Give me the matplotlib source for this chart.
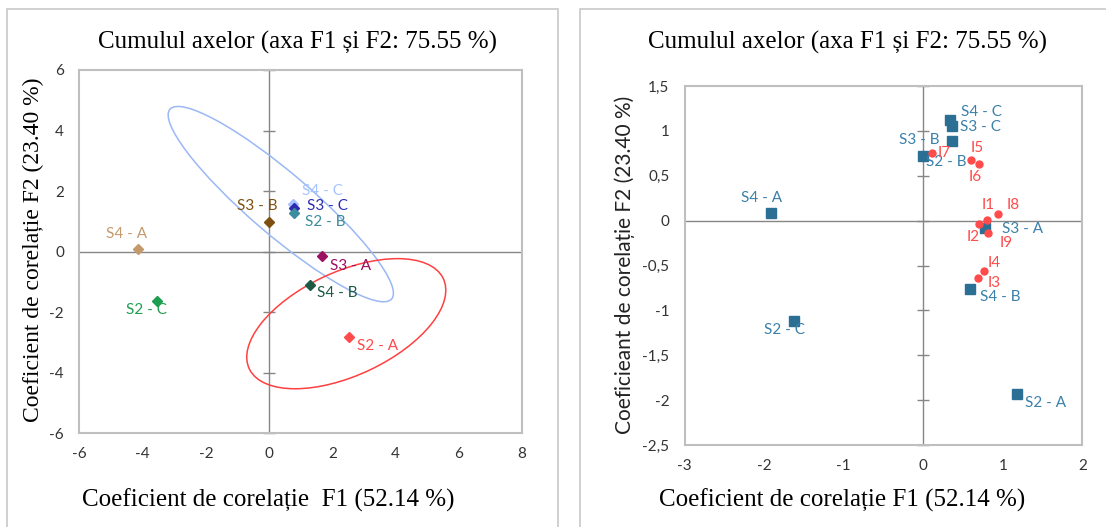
import matplotlib
matplotlib.use('Agg')
import matplotlib.pyplot as plt
from matplotlib.patches import Ellipse, Rectangle
import numpy as np

plt.rcParams['axes.unicode_minus'] = False

# left panel: observations (scores)
names_l = ['S4 - A', 'S2 - C', 'S3 - B', 'S4 - C', 'S3 - C', 'S2 - B', 'S3 - A', 'S4 - B', 'S2 - A']
x_l = [-4.16, -3.53, -0.01, 0.76, 0.78, 0.78, 1.68, 1.29, 2.54]
y_l = [0.09, -1.62, 0.99, 1.57, 1.44, 1.27, -0.14, -1.09, -2.81]
colors_l = ['#c49a6c', '#1e9e50', '#7f4f10', '#a6c3ff', '#2c2cb0', '#3a8c9e', '#9b1060', '#1d5a45', '#ff4b4b']
offs_l = [(-8, 11), (-8, -7), (-8, 11.5), (21, 9.6), (24, 1.7), (23, -6), (20.6, -7), (20, -6.2), (20.3, -7)]

# confidence ellipses: center x, center y, semi-major, semi-minor, angle
ell_blue = [0.37, 1.57, 4.7, 1.0, -41.9]
ell_red = [2.44, -2.38, 3.41, 1.70, 26.4]

# right panel: biplot
names_s = ['S4 - A', 'S2 - C', 'S4 - C', 'S3 - C', 'S3 - B', 'S2 - B', 'S3 - A', 'S4 - B', 'S2 - A']
x_s = [-1.91, -1.63, 0.34, 0.36, 0.36, 0.0, 0.77, 0.59, 1.18]
y_s = [0.09, -1.12, 1.12, 1.05, 0.89, 0.72, -0.08, -0.76, -1.93]
offs_s = [(-7.3, 10.4), (-6.8, -6.7), (22.8, 6), (20.4, -0.7), (-23.3, 0.7), (16.8, -4.1), (27.6, -0.7), (21.6, -6), (20.8, -6.7)]

names_i = ['I1', 'I2', 'I3', 'I4', 'I5', 'I6', 'I7', 'I8', 'I9']
x_i = [0.80, 0.70, 0.69, 0.76, 0.60, 0.70, 0.11, 0.945, 0.82]
y_i = [0.01, -0.04, -0.64, -0.56, 0.68, 0.63, 0.75, 0.075, -0.14]
offs_i = [(0.7, 10.6), (-4.3, -9.1), (11.8, -3.8), (7.7, 6), (4.1, 8.2), (-2.6, -9.1), (8.4, 0), (10.3, 6.7), (13, -7.2)]

xticks_l = [-6, -4, -2, 0, 2, 4, 6, 8]
yticks_l = [-6, -4, -2, 0, 2, 4, 6]
xticks_r = [-3, -2, -1, 0, 1, 2]
yticks_r = [-2.5, -2, -1.5, -1, -0.5, 0, 0.5, 1, 1.5]
yticklabels_r = ['-2,5', '-2', '-1,5', '-1', '-0,5', '0', '0,5', '1', '1,5']

title = 'Cumulul axelor (axa F1 și F2: 75.55 %)'
serif = 'Liberation Serif'
sans = 'Lato'
gray = '#868686'

fig = plt.figure(figsize=(11.06, 5.27), dpi=100)

# panel borders
fig.add_artist(Rectangle((7 / 1106, -0.05), 551 / 1106, 1 - 9 / 527 + 0.05, transform=fig.transFigure,
                         fill=False, ec='#c8c8c8', lw=1.2))
fig.add_artist(Rectangle((580 / 1106, -0.05), 0.6, 1 - 9 / 527 + 0.05, transform=fig.transFigure,
                         fill=False, ec='#c8c8c8', lw=1.2))


def setup(ax, xlim, ylim, xticks, yticks, yticklabels=None):
    ax.set_xlim(xlim)
    ax.set_ylim(ylim)
    ax.set_xticks(xticks)
    ax.set_yticks(yticks)
    if yticklabels is not None:
        ax.set_yticklabels(yticklabels)
    ax.tick_params(length=0, labelsize=11, labelcolor='#333333')
    ax.tick_params(axis='x', pad=10)
    ax.tick_params(axis='y', pad=11)
    for lab in ax.get_xticklabels() + ax.get_yticklabels():
        lab.set_family(sans)
    for s in ax.spines.values():
        s.set_color('#bfbfbf')
        s.set_linewidth(1.5)
    ax.axhline(0, color=gray, lw=1, zorder=1)
    ax.axvline(0, color=gray, lw=1, zorder=1)
    ax.plot(np.zeros(len(yticks)), yticks, ls='none', marker='_', ms=8.5, mew=1,
            color=gray, clip_on=False, zorder=1)


axl = fig.add_axes([0.0717, 0.1778, 0.4004, 0.6894])
setup(axl, (-6, 8), (-6, 6), xticks_l, yticks_l)
for c, e in [('#9ab8f5', ell_blue), ('#ff4040', ell_red)]:
    axl.add_patch(Ellipse((e[0], e[1]), 2 * e[2], 2 * e[3], angle=e[4], fill=False, ec=c, lw=1.1, zorder=2))
for n, x, y, c, o in zip(names_l, x_l, y_l, colors_l, offs_l):
    axl.plot(x, y, marker='D', ms=4.6, color=c, zorder=3)
    axl.annotate(n, (x, y), xytext=o, textcoords='offset points', ha='center', va='center',
                 color=c, fontsize=11, family=sans)

axr = fig.add_axes([0.6191, 0.1556, 0.3595, 0.6812])
setup(axr, (-3, 2), (-2.5, 1.5), xticks_r, yticks_r, yticklabels_r)
axr.plot(x_s, y_s, ls='none', marker='s', ms=6.8, color='#2b6f95', zorder=3)
for n, x, y, o in zip(names_s, x_s, y_s, offs_s):
    axr.annotate(n, (x, y), xytext=o, textcoords='offset points', ha='center', va='center',
                 color='#3a80aa', fontsize=11, family=sans)
axr.plot(x_i, y_i, ls='none', marker='o', ms=5, color='#ff4b4b', zorder=4)
for n, x, y, o in zip(names_i, x_i, y_i, offs_i):
    axr.annotate(n, (x, y), xytext=o, textcoords='offset points', ha='center', va='center',
                 color='#ff4b4b', fontsize=11, family=sans)

# titles and axis titles
fig.text(297 / 1106, 1 - 42 / 527, title, ha='center', va='center', fontsize=18, family=serif)
fig.text(847 / 1106, 1 - 42 / 527, title, ha='center', va='center', fontsize=18, family=serif)
fig.text(268 / 1106, 1 - 500 / 527, 'Coeficient de corelație  F1 (52.14 %)', ha='center', va='center',
         fontsize=18, family=serif)
fig.text(842 / 1106, 1 - 500 / 527, 'Coeficient de corelație F1 (52.14 %)', ha='center', va='center',
         fontsize=18, family=serif)
fig.text(33 / 1106, 1 - 250 / 527, 'Coeficient de corelație F2 (23.40 %)', ha='center', va='center',
         rotation=90, fontsize=17, family=serif)
fig.text(625 / 1106, 1 - 265 / 527, 'Coeficieant de corelație F2 (23.40 %)', ha='center', va='center',
         rotation=90, fontsize=15, family=sans, color='#222222')

fig.savefig('out.png', dpi=100)
